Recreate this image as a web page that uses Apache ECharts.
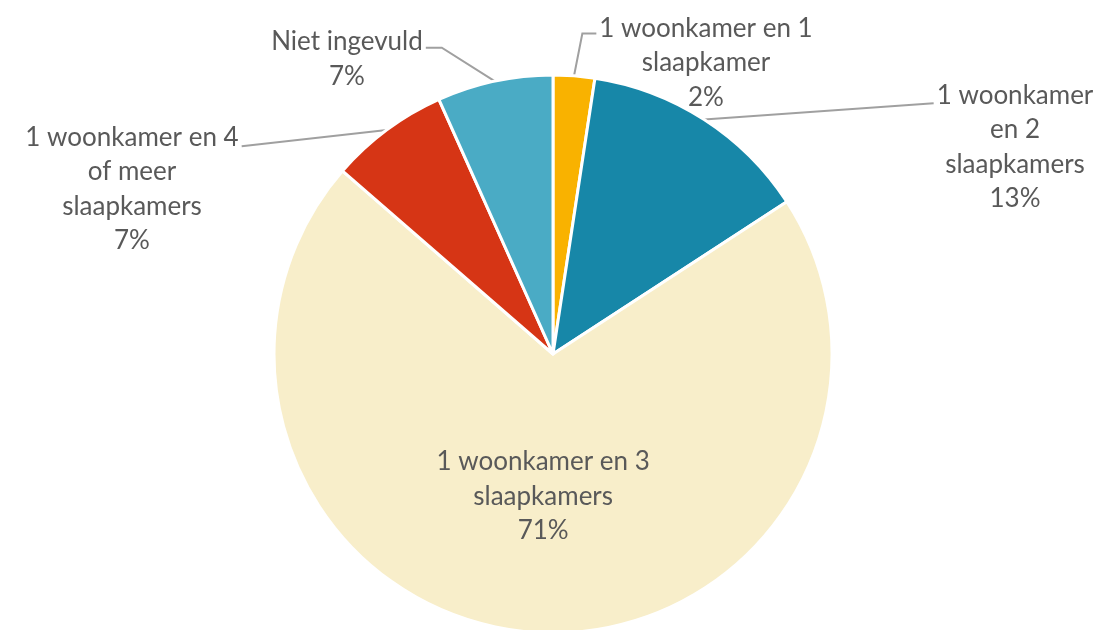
<!DOCTYPE html>
<html>
<head>
<meta charset="utf-8">
<script src="https://cdn.jsdelivr.net/npm/echarts@6/dist/echarts.min.js"></script>
<style>
html,body{margin:0;padding:0;background:#fff;}
#c{width:1107px;height:630px;}
</style>
</head>
<body>
<div id="c"></div>
<script>
// Data
const categories = [
  '1 woonkamer en 1\nslaapkamer',
  '1 woonkamer\nen 2\nslaapkamers',
  '1 woonkamer en 3\nslaapkamers',
  '1 woonkamer en 4\nof meer\nslaapkamers',
  'Niet ingevuld'
];
const values = [2.4, 13.4, 70.5, 6.9, 6.7];
const percentLabels = ['2%', '13%', '71%', '7%', '7%'];

// Styles (not data)
const colors = ['#F9B200', '#1787A8', '#F8EECA', '#D63515', '#4AABC5'];
const LINE_H = 34.5;
// label centre, side of the first text line the leader attaches to, horizontal elbow length, vertical offset
const labelPos = [
  {x: 706, y: 63, side: 'left', elbow: 14, dy: 5},
  {x: 1015, y: 147, side: 'left', elbow: 0, dy: 8},
  null,
  {x: 132, y: 189, side: 'right', elbow: 0, dy: 9},
  {x: 347, y: 59, side: 'right', elbow: 16, dy: 6}
];

const chart = echarts.init(document.getElementById('c'));
chart.setOption({
  animation: false,
  series: [{
    type: 'pie',
    center: [553, 354],
    radius: 279,
    startAngle: 90,
    clockwise: true,
    avoidLabelOverlap: false,
    itemStyle: {borderColor: '#fff', borderWidth: 3},
    label: {
      show: true,
      position: 'outside',
      color: '#595959',
      fontFamily: 'Lato',
      fontSize: 26,
      lineHeight: LINE_H,
      align: 'center',
      formatter: p => p.name + '\n' + percentLabels[p.dataIndex]
    },
    labelLine: {show: true, length: 15, length2: 15, lineStyle: {color: '#A0A0A0', width: 2}},
    labelLayout: function (p) {
      const pos = labelPos[p.dataIndex];
      if (!pos) return {};
      const out = {x: pos.x, y: pos.y, align: 'center', verticalAlign: 'middle'};
      if (p.labelLinePoints && p.labelLinePoints.length) {
        const a = p.labelLinePoints[0];
        const w = p.labelRect.width, h = p.labelRect.height;
        const ey = pos.y - h / 2 + LINE_H / 2 + pos.dy;
        const ex = pos.side === 'left' ? pos.x - w / 2 - 3 : pos.x + w / 2 + 3;
        const mx = pos.side === 'left' ? ex - pos.elbow : ex + pos.elbow;
        out.labelLinePoints = [[a[0], a[1]], [mx, ey], [ex, ey]];
      }
      return out;
    },
    data: categories.map((c, i) => {
      const d = {name: c, value: values[i], itemStyle: {color: colors[i]}};
      if (i === 2) {
        d.label = {position: 'inside'};
        d.labelLine = {show: false};
      }
      return d;
    })
  }]
});
</script>
</body>
</html>
